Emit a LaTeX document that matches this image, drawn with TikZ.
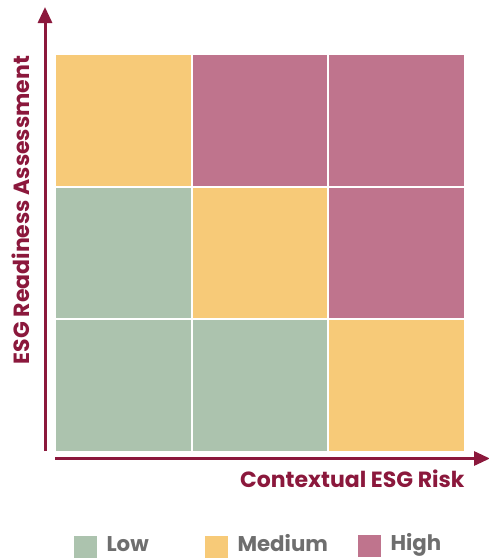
\documentclass[tikz,border=0pt]{standalone}
\usepackage{fontspec}
\setmainfont{Poppins}
\usetikzlibrary{arrows.meta}
\definecolor{lowgreen}{RGB}{172,195,174}
\definecolor{medyellow}{RGB}{247,202,120}
\definecolor{highpink}{RGB}{191,116,141}
\definecolor{axisred}{RGB}{139,24,60}
\definecolor{legendgray}{RGB}{110,110,110}
\tikzset{every picture/.style={line width=0.75pt}}
\tikzset{
  axisline/.style={draw=axisred, line width=2.25pt, -{Triangle[length=12pt,width=10.5pt]}},
  axislabel/.style={text=axisred, font=\fontsize{16.5}{19}\selectfont\bfseries, inner sep=0pt},
  legendbox/.style={fill=#1, minimum width=17.25pt, minimum height=16.5pt, inner sep=0pt},
  legendtext/.style={text=legendgray, font=\fontsize{16}{19}\selectfont\bfseries, inner sep=0pt, anchor=base west}
}

\begin{document}
\begin{tikzpicture}[x=0.75pt,y=0.75pt,yscale=-1,xscale=1]
\useasboundingbox (0,0) rectangle (489,558);

%Risk matrix cells
\foreach \col/\row/\clr in {0/0/medyellow,1/0/highpink,2/0/highpink,
                            0/1/lowgreen,1/1/medyellow,2/1/highpink,
                            0/2/lowgreen,1/2/lowgreen,2/2/medyellow}
  \fill[\clr] ({56+136.5*\col},{55+132.5*\row}) rectangle ++(134.5,130.5);

%Axes
\coordinate (ybase) at (45,451);
\coordinate (ytip) at (45,7);
\coordinate (xbase) at (55,458.5);
\coordinate (xtip) at (490,458.5);
\draw [axisline] (ybase) -- (ytip);
\draw [axisline] (xbase) -- (xtip);

% Text Node
\node [axislabel, anchor=base east] (xlabel) at (465,487) {Contextual ESG Risk};
% Text Node
\node [axislabel, rotate=90, anchor=base] (ylabel) at (29,210) {ESG Readiness Assessment};

%Legend
\node [legendbox=lowgreen] (lowbox) at (85.5,547) {};
\node [legendtext] (lowtext) at (106,551.5) {Low};
\node [legendbox=medyellow] (medbox) at (216.5,547) {};
\node [legendtext] (medtext) at (237,551.5) {Medium};
\node [legendbox=highpink] (highbox) at (369.5,546) {};
\node [legendtext] (hightext) at (390,550.5) {High};

\end{tikzpicture}
\end{document}
